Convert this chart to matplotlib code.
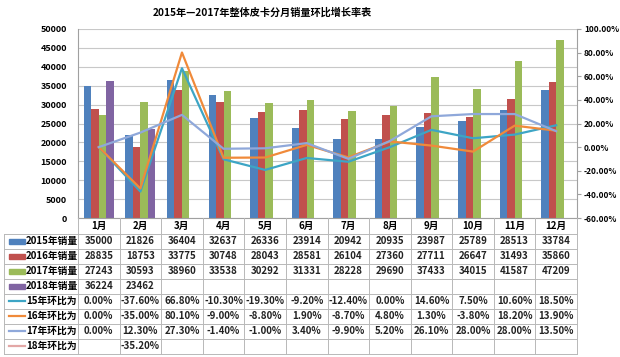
import matplotlib
matplotlib.use('Agg')
import matplotlib.pyplot as plt
import numpy as np

plt.rcParams['font.family'] = ['Noto Sans CJK SC', 'DejaVu Sans']

months = ['1月', '2月', '3月', '4月', '5月', '6月', '7月', '8月', '9月', '10月', '11月', '12月']

sales_2015 = [35000, 21826, 36404, 32637, 26336, 23914, 20942, 20935, 23987, 25789, 28513, 33784]
sales_2016 = [28835, 18753, 33775, 30748, 28043, 28581, 26104, 27360, 27711, 26647, 31493, 35860]
sales_2017 = [27243, 30593, 38960, 33538, 30292, 31331, 28228, 29690, 37433, 34015, 41587, 47209]
sales_2018 = [36224, 23462]

mom_15 = [0.0, -37.6, 66.8, -10.3, -19.3, -9.2, -12.4, 0.0, 14.6, 7.5, 10.6, 18.5]
mom_16 = [0.0, -35.0, 80.1, -9.0, -8.8, 1.9, -8.7, 4.8, 1.3, -3.8, 18.2, 13.9]
mom_17 = [0.0, 12.3, 27.3, -1.4, -1.0, 3.4, -9.9, 5.2, 26.1, 28.0, 28.0, 13.5]
mom_18 = [None, -35.2]

bar_names = ['2015年销量', '2016年销量', '2017年销量', '2018年销量']
bar_cols = ['#4f81bd', '#c0504d', '#9bbb59', '#8064a2']
line_names = ['15年环比为', '16年环比为', '17年环比为', '18年环比为']
line_cols = ['#3da5c5', '#f08a3a', '#8fa8da', '#e3a7a6']

W, H = 620, 357
fig = plt.figure(figsize=(W / 100, H / 100), dpi=100)

# plot area in pixels
x0, x1, ytop, ybot = 78, 577, 29, 218
ax = fig.add_axes([x0 / W, 1 - ybot / H, (x1 - x0) / W, (ybot - ytop) / H])
n = len(months)
x = np.arange(n)
bw = 0.18
bars = [sales_2015, sales_2016, sales_2017, sales_2018]
for i, (vals, c) in enumerate(zip(bars, bar_cols)):
    xs = x[:len(vals)] + (i - 1.5) * bw
    ax.bar(xs, vals, width=bw, color=c, zorder=2)
ax.set_xlim(-0.5, n - 0.5)
ax.set_ylim(0, 50000)
ax.set_yticks(np.arange(0, 50001, 5000))
ax.yaxis.grid(True, color='#c8c8c8', lw=0.8, zorder=0)
ax.set_xticks([])
for s in ['top', 'right']:
    ax.spines[s].set_visible(False)
ax.spines['left'].set_color('#a0a0a0')
ax.spines['bottom'].set_color('#a0a0a0')
ax.tick_params(axis='y', length=0, labelsize=6.5, pad=8)
for t in ax.get_yticklabels():
    t.set_fontweight('bold')

ax2 = ax.twinx()
for vals, c in zip([mom_15, mom_16, mom_17, mom_18], line_cols):
    v = np.array([np.nan if a is None else a for a in vals], dtype=float)
    ax2.plot(x[:len(v)], v, color=c, lw=1.6, zorder=3)
ax2.set_ylim(-60, 100)
ax2.set_yticks(np.arange(-60, 101, 20))
ax2.set_yticklabels(['%.2f%%' % v for v in np.arange(-60, 101, 20)])
ax2.tick_params(axis='y', length=3, labelsize=6, color='#a0a0a0', pad=2)
for t in ax2.get_yticklabels():
    t.set_fontweight('bold')
for s in ['top', 'left', 'bottom']:
    ax2.spines[s].set_visible(False)
ax2.spines['right'].set_color('#a0a0a0')

fig.text(262 / W, 1 - 13 / H, '2015年—2017年整体皮卡分月销量环比增长率表',
         ha='center', va='center', fontsize=7.3, fontweight='bold')

# data table under the chart, drawn in pixel coordinates
tab = fig.add_axes([0, 0, 1, 1])
tab.set_xlim(0, W)
tab.set_ylim(H, 0)
tab.axis('off')
colw = (x1 - x0) / n
rh = 15
r0 = 233.5
nrows = 8
grid = '#b8b8b8'
# month header
for j in range(n + 1):
    tab.plot([x0 + j * colw] * 2, [ybot, r0 + nrows * rh], color=grid, lw=0.7)
for j, m in enumerate(months):
    tab.text(x0 + (j + 0.5) * colw, 226, m, ha='center', va='center',
             fontsize=7, fontweight='bold')
for k in range(nrows + 1):
    tab.plot([4, x1], [r0 + k * rh] * 2, color=grid, lw=0.7)
tab.plot([4, 4], [r0, r0 + nrows * rh], color=grid, lw=0.7)

rows = []
for name, vals, c in zip(bar_names, bars, bar_cols):
    rows.append((name, [str(v) for v in vals], c, 'bar'))
for name, vals, c in zip(line_names, [mom_15, mom_16, mom_17, mom_18], line_cols):
    rows.append((name, ['' if v is None else '%.2f%%' % v for v in vals], c, 'line'))

for k, (name, cells, c, kind) in enumerate(rows):
    yc = r0 + (k + 0.5) * rh
    if kind == 'bar':
        tab.add_patch(plt.Rectangle((9, yc - 2.5), 16, 5, color=c))
    else:
        tab.plot([9, 25], [yc, yc], color=c, lw=1.6)
    tab.text(26, yc, name, ha='left', va='center', fontsize=7, fontweight='bold')
    for j, s in enumerate(cells):
        if s:
            tab.text(x0 + (j + 0.5) * colw, yc, s, ha='center', va='center',
                     fontsize=7, fontweight='bold', color='#222222')

fig.savefig('out.png', dpi=100)
